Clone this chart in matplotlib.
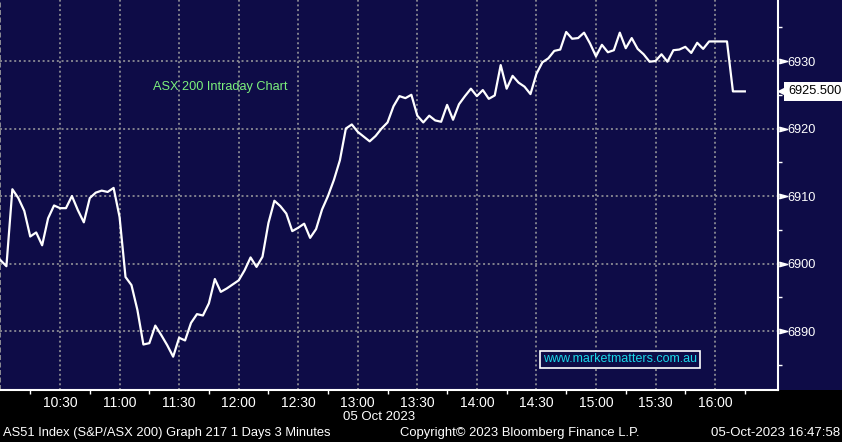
from matplotlib.patches import Rectangle
import matplotlib
import matplotlib.pyplot as plt
import matplotlib.transforms as mtransforms
import numpy as np

matplotlib.use('Agg')

# ASX 200, 3 minute closes from 10:00
close = [
    6900.5, 6899.6, 6911.0, 6909.7, 6907.8, 6904.0, 6904.6, 6902.7, 6906.7, 6908.6,
    6908.2, 6908.2, 6910.0, 6907.9, 6906.1, 6909.7, 6910.5, 6910.8, 6910.6, 6911.2,
    6906.9, 6898.0, 6896.8, 6893.1, 6888.0, 6888.2, 6890.8, 6889.4, 6887.9, 6886.2,
    6889.0, 6888.6, 6891.2, 6892.5, 6892.3, 6894.1, 6897.7, 6895.8, 6896.3, 6896.9,
    6897.5, 6899.0, 6900.9, 6899.5, 6901.0, 6906.0, 6909.3, 6908.5, 6907.4, 6904.8,
    6905.3, 6905.9, 6903.8, 6905.1, 6908.0, 6910.0, 6912.4, 6915.3, 6920.0, 6920.6,
    6919.5, 6918.8, 6918.1, 6918.9, 6920.0, 6920.9, 6923.3, 6924.8, 6924.5, 6925.0,
    6921.9, 6920.9, 6921.9, 6921.2, 6921.0, 6923.5, 6921.3, 6923.6, 6924.8, 6925.9,
    6924.8, 6925.7, 6924.4, 6924.9, 6929.4, 6925.9, 6927.8, 6926.8, 6926.2, 6925.1,
    6928.1, 6929.8, 6930.4, 6931.5, 6931.7, 6934.3, 6933.3, 6933.4, 6934.2, 6932.6,
    6930.7, 6932.4, 6931.3, 6931.6, 6934.2, 6931.9, 6933.4, 6931.8, 6931.0, 6929.9,
    6930.0, 6931.0, 6929.9, 6931.6, 6931.7, 6932.1, 6931.2, 6932.7, 6931.8, 6932.9,
    6932.9, 6932.9, 6932.9, 6925.5, 6925.5, 6925.5,
]
step_min = 3
last_price = 6925.5

time_ticks = [30, 60, 90, 120, 150, 180, 210, 240, 270, 300, 330, 360]
time_labels = ["10:30", "11:00", "11:30", "12:00", "12:30", "13:00",
               "13:30", "14:00", "14:30", "15:00", "15:30", "16:00"]
price_ticks = [6890, 6900, 6910, 6920, 6930]

navy = '#0e0c47'
grid_col = '#a0a0a0'
font = 'Liberation Sans'

fig = plt.figure(figsize=(8.42, 4.42), dpi=100, facecolor='black')
fig.patches.append(Rectangle((0, 52 / 442), 1, 390 / 442, transform=fig.transFigure,
                             fc=navy, ec='none', zorder=-10))
ax = fig.add_axes([0, 52 / 442, 778 / 842, 390 / 442])
ax.set_facecolor(navy)

minutes = np.arange(len(close)) * step_min
ax.plot(minutes, close, color='white', lw=1.6, zorder=3)

ax.set_xlim(-0.23, 391.7)
ax.set_ylim(6881.26, 6939.04)

# x axis: labels on the half hours, small ticks on the quarters
ax.set_xticks(time_ticks)
ax.set_xticklabels(time_labels)
ax.set_xticks(np.arange(15, 391, 30), minor=True)
ax.tick_params(axis='x', which='major', length=0, pad=4, colors='white',
               labelsize=10, labelfontfamily=font)
ax.tick_params(axis='x', which='minor', length=3, width=1, color='white')

# y axis on the right
ax.yaxis.tick_right()
ax.set_yticks(price_ticks)
ax.set_yticks(np.arange(6885, 6940, 10), minor=True)
ax.tick_params(axis='y', which='major', length=0, pad=7, colors='white',
               labelsize=9.2, labelfontfamily=font)
ax.tick_params(axis='y', which='minor', length=3, width=1, color='white')

ax.grid(True, which='major', color=grid_col, ls=(0, (1.3, 1.8)), lw=1.1)
ax.axvline(0, color=grid_col, ls=(0, (3, 1.5)), lw=1.2)

for side in ['left', 'top']:
    ax.spines[side].set_visible(False)
for side in ['right', 'bottom']:
    ax.spines[side].set_color('white')
    ax.spines[side].set_linewidth(1.5)

# arrow heads pointing at the price labels
trans = mtransforms.blended_transform_factory(ax.transAxes, ax.transData)
arrow = [(-1, -0.55), (1, 0), (-1, 0.55)]
ax.plot([1 + 5 / 778] * len(price_ticks), price_ticks, ls='', marker=arrow, ms=6,
        color='white', transform=trans, clip_on=False, zorder=4)

# last price box
ax.plot([1 + 5 / 778], [last_price], ls='', marker='<', ms=7, color='white',
        transform=trans, clip_on=False, zorder=4)
ax.text(1 + 10 / 778, last_price, f"{last_price:.3f}", transform=trans, ha='left',
        va='center', color='black', fontsize=9.2, family=font, clip_on=False,
        bbox=dict(boxstyle='square,pad=0.3', fc='white', ec='none'))

ax.text(153 / 778, 6926.2, "ASX 200 Intraday Chart", transform=trans, color='#7cf07c',
        fontsize=9.2, family=font, ha='left', va='center')

fig.text(620 / 842, 1 - 359.5 / 442, "www.marketmatters.com.au", color='#1ad8e8',
         fontsize=9, family=font, ha='center', va='center',
         bbox=dict(boxstyle='square,pad=0.22', fc=navy, ec='white', lw=1.2))

fig.text(343 / 842, 1 - 417 / 442, "05 Oct 2023", color='white', fontsize=9.5,
         family=font, ha='left', va='center')

fig.text(3 / 842, 1 - 433 / 442, "AS51 Index (S&P/ASX 200) Graph 217 1 Days 3 Minutes",
         color='white', fontsize=9.3, family=font, ha='left', va='center')
fig.text(400 / 842, 1 - 433 / 442, "Copyright\u00a9 2023 Bloomberg Finance L.P.",
         color='white', fontsize=9.4, family=font, ha='left', va='center')
fig.text(840 / 842, 1 - 433 / 442, "05-Oct-2023 16:47:58",
         color='white', fontsize=9.5, family=font, ha='right', va='center')

plt.savefig('out.png', dpi=100, facecolor=fig.get_facecolor())
